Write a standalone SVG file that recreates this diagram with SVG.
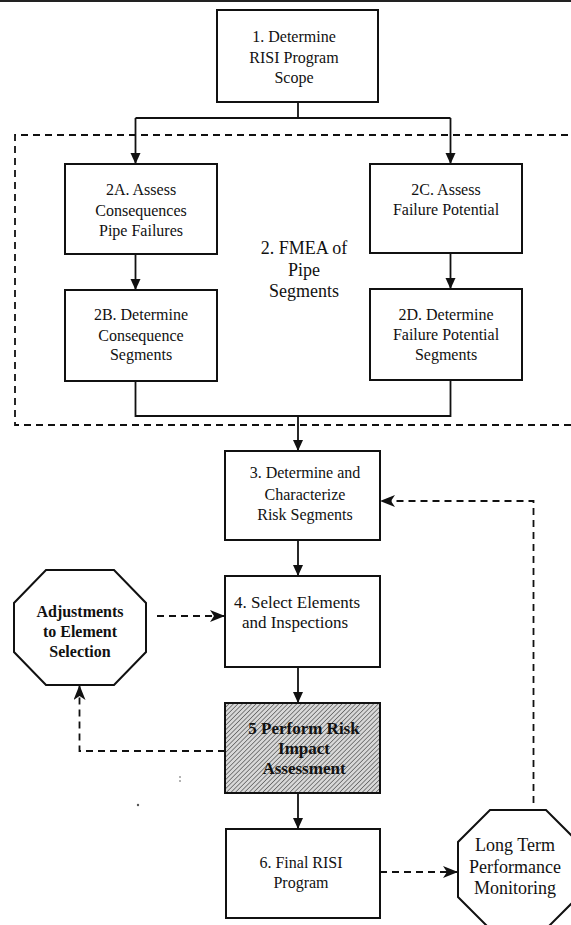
<svg xmlns="http://www.w3.org/2000/svg" width="571" height="925" viewBox="0 0 571 925">
<style>
.box{fill:#fff;stroke:#111;stroke-width:2}
.t{font-family:"Liberation Serif","Times New Roman",serif;font-size:16px;fill:#111;text-anchor:middle}
.b{font-weight:bold}
.ln{fill:none;stroke:#111;stroke-width:1.8}
.dl{fill:none;stroke:#111;stroke-width:1.8;stroke-dasharray:7 5}
</style>
<defs>
<marker id="ah" markerWidth="12" markerHeight="12" refX="11" refY="5" orient="auto" markerUnits="userSpaceOnUse">
<path d="M0,0 L11,5 L0,10 Z" fill="#111"/>
</marker>
<marker id="dh" markerWidth="16" markerHeight="14" refX="15" refY="6" orient="auto" markerUnits="userSpaceOnUse">
<path d="M0,0 L15,6 L0,12 L4,6 Z" fill="#111"/>
</marker>
<pattern id="hatch" width="3.2" height="3.2" patternUnits="userSpaceOnUse" patternTransform="rotate(45)">
<rect width="3.2" height="3.2" fill="#d8d8d8"/>
<line x1="0" y1="0" x2="0" y2="3.2" stroke="#333" stroke-width="1.1"/>
</pattern>
</defs>
<rect width="571" height="925" fill="#fff"/>
<line x1="0" y1="1" x2="571" y2="1" stroke="#222" stroke-width="2"/>

<g id="fmea-group">
<path d="M580,135 H15 V425 H580" fill="none" stroke="#111" stroke-width="1.8" stroke-dasharray="7 5"/>
<text class="t" x="304" y="254" style="font-size:18px">2. FMEA of</text>
<text class="t" x="304" y="276" style="font-size:18px">Pipe</text>
<text class="t" x="304" y="297" style="font-size:18px">Segments</text>
</g>

<g id="connectors">
<path class="ln" d="M298,102 V118"/>
<path class="ln" d="M135.5,118 H450.5"/>
<path class="ln" d="M135.5,118 V164" marker-end="url(#ah)"/>
<path class="ln" d="M450.5,118 V164" marker-end="url(#ah)"/>
<path class="ln" d="M135.5,254 V290" marker-end="url(#ah)"/>
<path class="ln" d="M450.5,253 V289" marker-end="url(#ah)"/>
<path class="ln" d="M135.5,381 V416 H450.5 V380"/>
<path class="ln" d="M298,416 V451" marker-end="url(#ah)"/>
<path class="ln" d="M298,540 V576" marker-end="url(#ah)"/>
<path class="ln" d="M298,667 V703" marker-end="url(#ah)"/>
<path class="ln" d="M298,793 V829" marker-end="url(#ah)"/>
<path class="dl" d="M157,616 H225" marker-end="url(#dh)"/>
<path class="dl" d="M225,751 H79.5 V685" marker-end="url(#dh)"/>
<path class="dl" d="M380,872 H458" marker-end="url(#dh)"/>
<path class="dl" d="M533.5,803 V501 H380" marker-end="url(#dh)"/>
</g>

<g id="n1">
<rect class="box" x="217" y="10" width="161" height="92"/>
<text class="t" x="294" y="42">1. Determine</text>
<text class="t" x="294" y="62.5">RISI Program</text>
<text class="t" x="294" y="82.5">Scope</text>
</g>
<g id="n2a">
<rect class="box" x="65" y="164" width="152" height="90"/>
<text class="t" x="141" y="195">2A.  Assess</text>
<text class="t" x="141" y="215.5">Consequences</text>
<text class="t" x="141" y="235.5">Pipe Failures</text>
</g>
<g id="n2b">
<rect class="box" x="65" y="290" width="152" height="91"/>
<text class="t" x="141" y="320">2B. Determine</text>
<text class="t" x="141" y="341">Consequence</text>
<text class="t" x="141" y="360">Segments</text>
</g>
<g id="n2c">
<rect class="box" x="370" y="164" width="152" height="89"/>
<text class="t" x="446" y="195">2C. Assess</text>
<text class="t" x="446" y="214.5">Failure Potential</text>
</g>
<g id="n2d">
<rect class="box" x="370" y="289" width="152" height="91"/>
<text class="t" x="446" y="320">2D. Determine</text>
<text class="t" x="446" y="340">Failure Potential</text>
<text class="t" x="446" y="360">Segments</text>
</g>
<g id="n3">
<rect class="box" x="225" y="451" width="155" height="89"/>
<text class="t" x="305" y="478">3. Determine and</text>
<text class="t" x="305" y="500">Characterize</text>
<text class="t" x="305" y="520">Risk Segments</text>
</g>
<g id="n4">
<rect class="box" x="225" y="576" width="155" height="91"/>
<text class="t" x="297" y="608" style="font-size:17px">4. Select Elements</text>
<text class="t" x="295" y="628" style="font-size:17px">and Inspections</text>
</g>
<g id="n5">
<rect x="225" y="703" width="155" height="90" fill="url(#hatch)" stroke="#111" stroke-width="2"/>
<text class="t b" x="304" y="734" style="font-size:17px">5 Perform Risk</text>
<text class="t b" x="304" y="754" style="font-size:17px">Impact</text>
<text class="t b" x="304" y="774" style="font-size:17px">Assessment</text>
</g>
<g id="n6">
<rect class="box" x="226" y="829" width="154" height="89"/>
<text class="t" x="301" y="868">6. Final RISI</text>
<text class="t" x="301" y="888">Program</text>
</g>
<g id="adjust">
<polygon class="box" points="46,570 114,570 146,603 146,652 114,685 46,685 14,652 14,603"/>
<text class="t b" x="80" y="617">Adjustments</text>
<text class="t b" x="80" y="637">to Element</text>
<text class="t b" x="80" y="657">Selection</text>
</g>
<g id="monitor">
<polygon class="box" points="490,810 546,810 578,842 578,897 546,929 490,929 458,897 458,842"/>
<text class="t" x="515" y="851" style="font-size:18px">Long Term</text>
<text class="t" x="515" y="873" style="font-size:18px">Performance</text>
<text class="t" x="515" y="894" style="font-size:18px">Monitoring</text>
</g>
<g id="specks" fill="#555">
<circle cx="180" cy="777" r="0.8"/>
<circle cx="180" cy="781" r="0.8"/>
<circle cx="138" cy="805" r="1.2"/>
</g>
</svg>
